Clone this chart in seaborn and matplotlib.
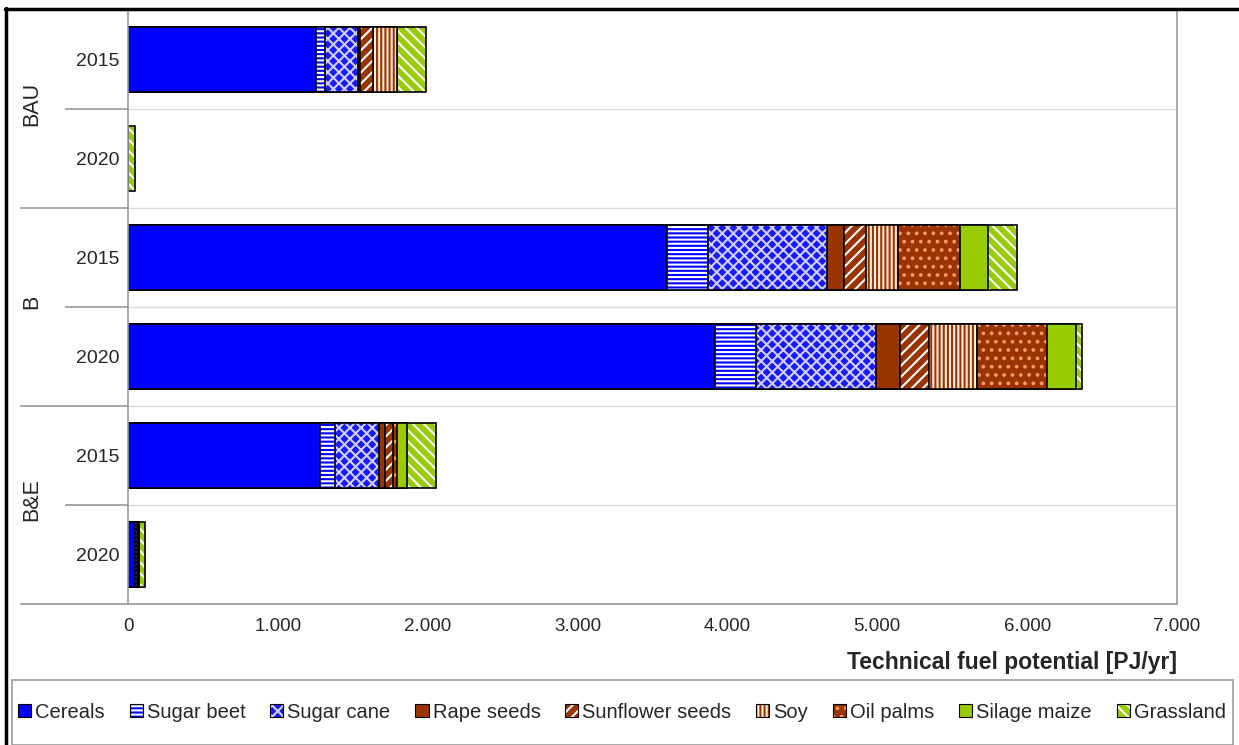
import numpy as np
import pandas as pd
import seaborn as sns
import matplotlib.pyplot as plt
import matplotlib.colors as mcolors
from matplotlib.lines import Line2D
from matplotlib.patches import Patch, Rectangle
from matplotlib.ticker import FuncFormatter

# Data (PJ/yr)
scenarios = ['BAU', 'B', 'B&E']
years = ['2015', '2020']
rows = [f'{s} {y}' for s in scenarios for y in years]

crops = ['Cereals', 'Sugar beet', 'Sugar cane', 'Rape seeds', 'Sunflower seeds',
         'Soy', 'Oil palms', 'Silage maize', 'Grassland']
cereals = [1253, 0, 3600, 3920, 1280, 47]
sugar_beet = [60, 0, 273, 273, 100, 10]
sugar_cane = [220, 0, 793, 800, 293, 10]
rape_seeds = [13, 0, 113, 160, 40, 5]
sunflower_seeds = [87, 0, 147, 193, 53, 0]
soy = [160, 0, 213, 320, 0, 0]
oil_palms = [0, 0, 413, 467, 27, 0]
silage_maize = [0, 0, 187, 193, 67, 0]
grassland = [193, 45, 193, 40, 193, 40]
values = [cereals, sugar_beet, sugar_cane, rape_seeds, sunflower_seeds,
          soy, oil_palms, silage_maize, grassland]

# Styles: face colour, hatch, hatch colour
faces = ['#0000ff', '#0000ff', '#1a1aff', '#993300', '#993300',
         '#fff0e0', '#993300', '#99cc00', '#99cc00']
hatches = [None, '----', 'xxx', None, '///', '||||', '..', None, '\\\\\\']
hatch_cols = ['white', 'white', '#d0d0ff', 'white', 'white',
              '#993300', '#ff9966', 'white', 'white']

df = pd.DataFrame(dict(zip(crops, values)), index=rows)
cum = df.cumsum(axis=1)
cum['row'] = rows

sns.set_style('white')
plt.rcParams['font.family'] = ['Liberation Sans', 'DejaVu Sans']
plt.rcParams['hatch.linewidth'] = 1.5


def style_patch(p, face, hatch, hcol):
    p.set_facecolor(face)
    p.set_edgecolor('black')
    p.set_linewidth(1.2)
    if hatch:
        p.set_hatch(hatch)
    if hasattr(p, 'set_hatchcolor'):
        p.set_hatchcolor(hcol)
    else:
        p._hatch_color = mcolors.to_rgba(hcol)


fig = plt.figure(figsize=(12.39, 7.45), dpi=100)
ax = fig.add_axes([128 / 1239, 1 - 604 / 745, (1177 - 128) / 1239, 594 / 745])

# stacked bars: draw the cumulative totals from the outermost layer inwards
for i in reversed(range(len(crops))):
    n0 = len(ax.patches)
    sns.barplot(data=cum, x=crops[i], y='row', order=rows, orient='h',
                color=faces[i], saturation=1, width=0.65, ax=ax)
    for p in ax.patches[n0:]:
        style_patch(p, faces[i], hatches[i], hatch_cols[i])

ax.set_xlim(0, 7000)
ax.set_ylim(5.5, -0.5)
ax.set_xticks(range(0, 7001, 1000))
ax.xaxis.set_major_formatter(FuncFormatter(lambda v, _: f'{int(v):,}'.replace(',', '.')))
ax.tick_params(axis='x', length=4, width=1, color='#999999', labelsize=13.5, pad=6)
ax.set_yticks(range(len(rows)))
ax.set_yticklabels([y for s in scenarios for y in years])
ax.tick_params(axis='y', length=0, labelsize=14, pad=6)
ax.set_ylabel('')
ax.set_xlabel('Technical fuel potential [PJ/yr]', fontsize=16.5, fontweight='bold',
              ha='right', va='center')
ax.xaxis.set_label_coords(1.0, -0.099)

for sp in ax.spines.values():
    sp.set_color('#999999')
    sp.set_linewidth(1.2)

# row separators, with the extensions into the left margin
ytr = ax.get_yaxis_transform()
for yb in [0.5, 1.5, 2.5, 3.5, 4.5]:
    ax.hlines(yb, 0, 1, transform=ytr, color='#dddddd', lw=1, zorder=0)
    x0 = -0.103 if yb in (1.5, 3.5) else -0.06
    ax.hlines(yb, x0, 0, transform=ytr, color='#999999', lw=1.2, clip_on=False)
ax.hlines(5.5, -0.103, 0, transform=ytr, color='#999999', lw=1.2, clip_on=False)

for k, s in enumerate(scenarios):
    ax.text(-0.092, 2 * k + 0.45, s, transform=ytr, rotation=90,
            ha='center', va='center', fontsize=15.5)

# legend, with a hand-drawn box
handles = []
for i in range(len(crops)):
    h = Patch(label=crops[i])
    style_patch(h, faces[i], hatches[i], hatch_cols[i])
    h.set_linewidth(0.8)
    handles.append(h)
fig.legend(handles=handles, loc='center left', ncol=9, mode='expand',
           bbox_to_anchor=(14 / 1239, 1 - 712 / 745, (1230 - 14) / 1239, 0),
           fontsize=14.5, handlelength=0.65, handleheight=0.65,
           handletextpad=0.2, columnspacing=0.5, borderpad=0.2, borderaxespad=0,
           frameon=False)
fig.add_artist(Rectangle((12 / 1239, 0), (1233 - 12) / 1239, 1 - 680 / 745,
                         transform=fig.transFigure, fill=False,
                         edgecolor='#999999', lw=1.2))

# outer frame lines
fig.add_artist(Line2D([6 / 1239, 6 / 1239], [0, 1 - 8 / 745], transform=fig.transFigure,
                      color='black', lw=2.5))
fig.add_artist(Line2D([5 / 1239, 1], [1 - 9 / 745, 1 - 9 / 745], transform=fig.transFigure,
                      color='black', lw=2.5))

fig.savefig('out.png', dpi=100)
